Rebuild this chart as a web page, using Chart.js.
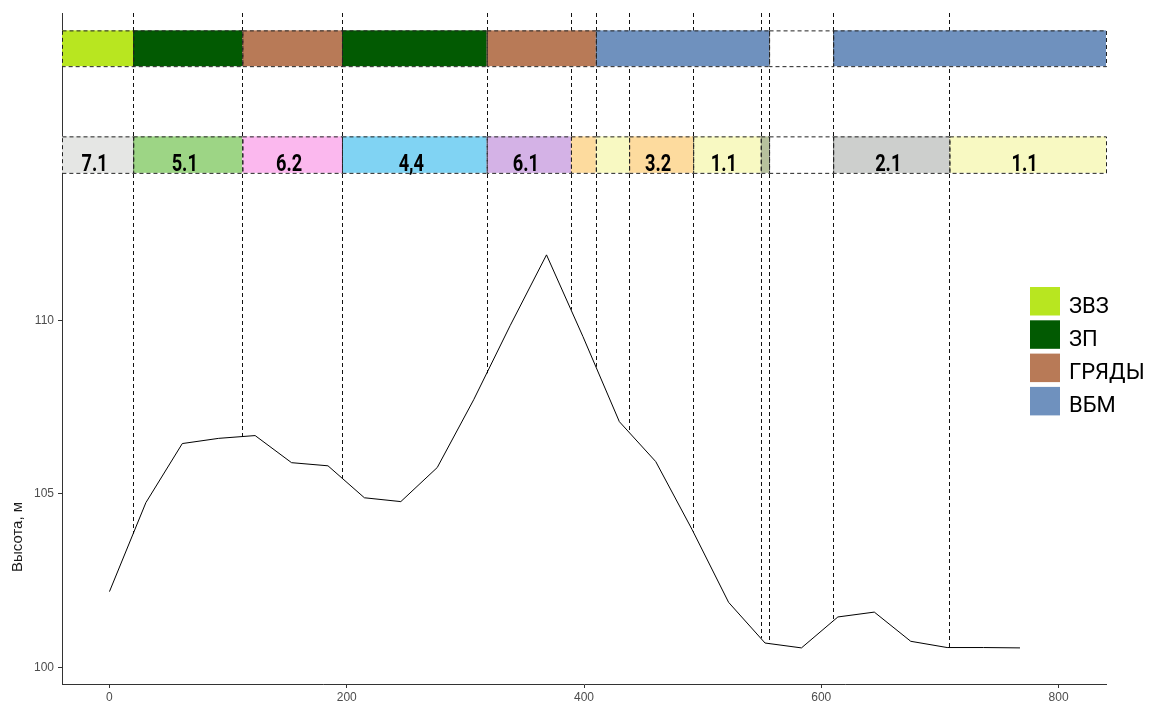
<!DOCTYPE html>
<html lang="ru">
<head>
<meta charset="utf-8">
<title>Профиль</title>
<script src="https://cdn.jsdelivr.net/npm/chart.js@4.4.1/dist/chart.umd.min.js"></script>
<style>
	html, body { margin: 0; padding: 0; background: #fff; }
	canvas { display: block; }
</style>
</head>
<body>
<canvas id="profileChart" width="1156" height="708"></canvas>
<script>
// профиль рельефа: расстояние, м / высота, м
const distance = [0, 30.7, 61.4, 92.1, 122.8, 153.5, 184.2, 214.9, 245.6, 276.3, 307.0, 337.7, 368.4,
	399.1, 429.8, 460.5, 491.2, 521.9, 552.6, 583.3, 614.0, 644.7, 675.4, 706.1, 736.8, 767.5];
const elevation = [102.19, 104.75, 106.45, 106.60, 106.68, 105.90, 105.81, 104.89, 104.78, 105.76, 107.71, 109.84, 111.88,
	109.53, 107.08, 105.93, 103.97, 101.88, 100.71, 100.57, 101.46, 101.60, 100.76, 100.58, 100.58, 100.57];

// границы участков (пунктир)
const dividers = [20, 112, 196, 318, 389, 410, 438, 492, 549, 556, 610, 708];

// верхняя полоса: элементы рельефа
const zoneFrom = [-40, 20, 112, 196, 318, 410, 556, 610];
const zoneTo = [20, 112, 196, 318, 410, 556, 610, 840];
const zoneName = ['ЗВЗ', 'ЗП', 'ГРЯДЫ', 'ЗП', 'ГРЯДЫ', 'ВБМ', '', 'ВБМ'];

// нижняя полоса: почвенные контуры
const soilFrom = [-40, 20, 112, 196, 318, 389, 410, 438, 492, 549, 556, 610, 708];
const soilTo = [20, 112, 196, 318, 389, 410, 438, 492, 549, 556, 610, 708, 840];
const soilLabel = ['7.1', '5.1', '6.2', '4,4', '6.1', '', '', '3.2', '1.1', '', '', '2.1', '1.1'];

const xTicks = [0, 200, 400, 600, 800];
const yTicks = [100, 105, 110];

const legendNames = ['ЗВЗ', 'ЗП', 'ГРЯДЫ', 'ВБМ'];

// стили
const zoneColors = { 'ЗВЗ': '#b8e620', 'ЗП': '#025a02', 'ГРЯДЫ': '#b87a57', 'ВБМ': '#6f91be', '': '#ffffff' };
const soilColors = ['#e5e6e4', '#9dd585', '#fbb8ee', '#80d3f3', '#d4b2e6', '#fddb9e', '#f8f9c2',
	'#fddb9e', '#f8f9c2', '#b7c19d', '#ffffff', '#cdcfcd', '#f8f9c2'];
const zoneBand = [117.31, 118.34];
const soilBand = [114.24, 115.29];

function lineYAt(chart, xv) {
	const pts = chart.getDatasetMeta(0).data;
	const px = chart.scales.x.getPixelForValue(xv);
	for (let i = 1; i < pts.length; i++) {
		if (pts[i].x >= px) {
			const a = pts[i - 1], b = pts[i];
			const t = (px - a.x) / (b.x - a.x);
			return a.y + t * (b.y - a.y);
		}
	}
	return pts[pts.length - 1].y;
}

function drawBand(ctx, xs, ys, from, to, band, colorOf, labels) {
	const top = ys.getPixelForValue(band[1]);
	const bottom = ys.getPixelForValue(band[0]);
	for (let i = 0; i < from.length; i++) {
		const l = xs.getPixelForValue(from[i]);
		const r = xs.getPixelForValue(to[i]);
		ctx.fillStyle = colorOf(i);
		ctx.fillRect(l, top, r - l, bottom - top);
	}
	ctx.save();
	ctx.strokeStyle = '#222';
	ctx.lineWidth = 1;
	ctx.setLineDash([4, 3]);
	for (let i = 0; i < from.length; i++) {
		const l = xs.getPixelForValue(from[i]);
		const r = xs.getPixelForValue(to[i]);
		ctx.strokeRect(l + 0.5, top + 0.5, r - l, bottom - top);
	}
	ctx.restore();
	if (!labels) return;
	// узкий жирный шрифт для номеров контуров
	ctx.fillStyle = '#000';
	ctx.font = 'bold 24px Roboto, "DejaVu Sans", sans-serif';
	ctx.textAlign = 'center';
	ctx.textBaseline = 'alphabetic';
	for (let i = 0; i < from.length; i++) {
		if (!labels[i]) continue;
		const mid = (xs.getPixelForValue(from[i]) + xs.getPixelForValue(to[i])) / 2;
		ctx.save();
		ctx.translate(mid - 3, bottom - 2);
		ctx.scale(0.76, 1);
		ctx.fillText(labels[i], 0, 0);
		ctx.restore();
	}
}

const profileDecor = {
	id: 'profileDecor',
	beforeDatasetsDraw(chart) {
		const { ctx, chartArea, scales: { x: xs, y: ys } } = chart;
		ctx.save();
		// пунктирные границы от верха панели до линии профиля
		ctx.strokeStyle = '#111';
		ctx.lineWidth = 1;
		ctx.setLineDash([4, 3]);
		dividers.forEach(d => {
			const px = Math.round(xs.getPixelForValue(d)) + 0.5;
			ctx.beginPath();
			ctx.moveTo(px, chartArea.top);
			ctx.lineTo(px, lineYAt(chart, d));
			ctx.stroke();
		});
		ctx.setLineDash([]);
		drawBand(ctx, xs, ys, zoneFrom, zoneTo, zoneBand, i => zoneColors[zoneName[i]], null);
		drawBand(ctx, xs, ys, soilFrom, soilTo, soilBand, i => soilColors[i], soilLabel);
		ctx.restore();
	},
	afterDraw(chart) {
		const { ctx } = chart;
		ctx.save();
		// подпись оси Y
		ctx.translate(18, 537);
		ctx.rotate(-Math.PI / 2);
		ctx.fillStyle = '#1a1a1a';
		ctx.font = '15px "Liberation Sans", Arial, sans-serif';
		ctx.textAlign = 'center';
		ctx.textBaseline = 'middle';
		ctx.fillText('Высота, м', 0, 0);
		ctx.restore();

		// легенда
		ctx.save();
		ctx.font = '22px Roboto, "DejaVu Sans", sans-serif';
		ctx.textAlign = 'left';
		ctx.textBaseline = 'alphabetic';
		legendNames.forEach((name, i) => {
			const top = 287 + i * 33.3;
			ctx.fillStyle = zoneColors[name];
			ctx.fillRect(1030, top, 30, 28.5);
			ctx.fillStyle = '#000';
			ctx.fillText(name, 1069, top + 25.5);
		});
		ctx.restore();
	}
};

const tickFont = { family: '"Liberation Sans", Arial, sans-serif', size: 12 };

new Chart(document.getElementById('profileChart'), {
	type: 'line',
	data: {
		datasets: [{
			data: distance.map((d, i) => ({ x: d, y: elevation[i] })),
			borderColor: '#000',
			borderWidth: 1,
			pointRadius: 0,
			tension: 0,
			fill: false
		}]
	},
	options: {
		responsive: false,
		animation: false,
		devicePixelRatio: 1,
		layout: { padding: { left: 0, right: 50, top: 13, bottom: 0 } },
		plugins: {
			legend: { display: false },
			tooltip: { enabled: false }
		},
		scales: {
			x: {
				type: 'linear',
				min: -40,
				max: 840,
				afterBuildTicks: scale => { scale.ticks = xTicks.map(v => ({ value: v })); },
				afterFit: scale => { scale.height = 24; },
				grid: { drawOnChartArea: false, drawTicks: true, tickLength: 4, color: '#333' },
				border: { display: true, color: '#333', width: 1 },
				ticks: { color: '#4d4d4d', font: tickFont, padding: 2, maxRotation: 0 }
			},
			y: {
				type: 'linear',
				min: 99.531,
				max: 118.84,
				afterBuildTicks: scale => { scale.ticks = yTicks.map(v => ({ value: v })); },
				afterFit: scale => { scale.width = 62; },
				grid: { drawOnChartArea: false, drawTicks: true, tickLength: 4, color: '#333' },
				border: { display: true, color: '#333', width: 1 },
				ticks: { color: '#4d4d4d', font: tickFont, padding: 4 }
			}
		}
	},
	plugins: [profileDecor]
});
</script>
</body>
</html>
